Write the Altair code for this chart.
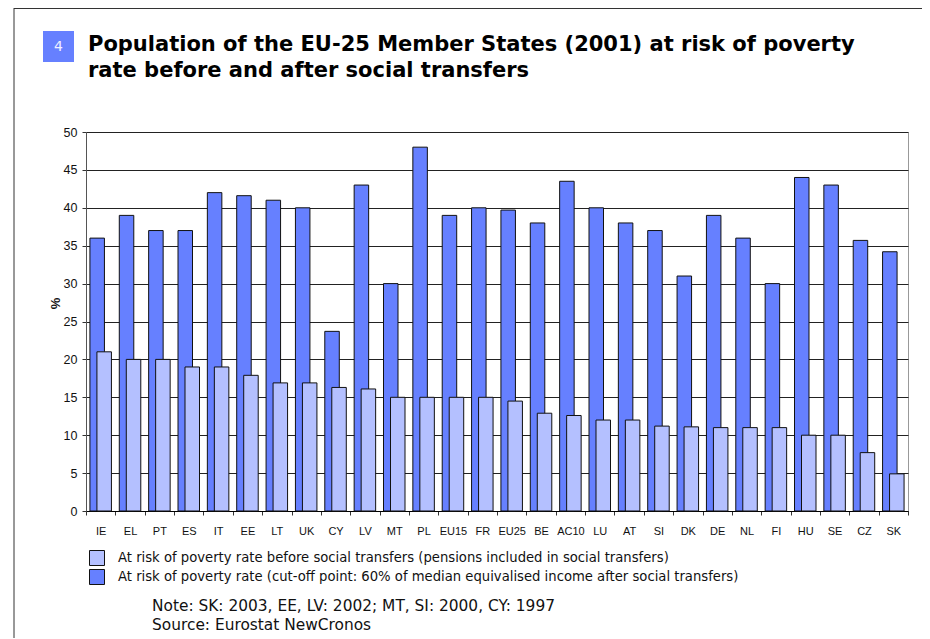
import altair as alt
import pandas as pd

countries = ["IE", "EL", "PT", "ES", "IT", "EE", "LT", "UK", "CY", "LV", "MT", "PL", "EU15", "FR",
             "EU25", "BE", "AC10", "LU", "AT", "SI", "DK", "DE", "NL", "FI", "HU", "SE", "CZ", "SK"]
after_values = [36, 39, 37, 37, 42, 41.6, 41, 40, 23.7, 43, 30, 48, 39, 40,
                39.7, 38, 43.5, 40, 38, 37, 31, 39, 36, 30, 44, 43, 35.7, 34.2]
before_values = [21, 20, 20, 19, 19, 17.9, 16.9, 16.9, 16.3, 16.1, 15, 15, 15, 15,
                 14.5, 12.9, 12.6, 12, 12, 11.2, 11.1, 11, 11, 11, 10, 10, 7.7, 4.9]
label_before = "At risk of poverty rate before social transfers (pensions included in social transfers)"
label_after = "At risk of poverty rate (cut-off point: 60% of median equivalised income after social transfers)"
y_ticks = [0, 5, 10, 15, 20, 25, 30, 35, 40, 45, 50]
title_lines = ["Population of the EU-25 Member States (2001) at risk of poverty",
               "rate before and after social transfers"]
note_lines = ["Note: SK: 2003, EE, LV: 2002; MT, SI: 2000, CY: 1997",
              "Source: Eurostat NewCronos"]
badge = "4"

DARK = "#6680FF"
LIGHT = "#B4C0FF"
VERDANA = "DejaVu Sans"
NARROW = "Liberation Sans Narrow, Liberation Sans, Arial, sans-serif"

rows = []
for c, a, b in zip(countries, after_values, before_values):
    rows.append({"country": c, "series": label_after, "value": a})
    rows.append({"country": c, "series": label_before, "value": b})
df = pd.DataFrame(rows)

x_enc = alt.X(
    "country:N", sort=countries,
    scale=alt.Scale(paddingInner=0, paddingOuter=0),
    axis=alt.Axis(title=None, labelAngle=0, tickBand="extent", tickSize=4, tickColor="#333",
                  domainColor="#000", labelFont=NARROW, labelFontSize=11, labelPadding=10,
                  labelColor="#111", grid=False),
)
y_enc = alt.Y(
    "value:Q",
    scale=alt.Scale(domain=[0, 50], nice=False),
    axis=alt.Axis(values=y_ticks, title="%", titleX=-31, titleY=171, titleAlign="center",
                  titleBaseline="middle", titleFont="Liberation Sans", titleFontSize=13,
                  titleFontWeight="bold", titleColor="#111",
                  grid=True, gridColor="#222", gridWidth=1, tickSize=4, tickColor="#333",
                  domainColor="#555", labelFont="Liberation Sans", labelFontSize=12.5,
                  labelPadding=5, labelColor="#111"),
)
color_enc = alt.Color(
    "series:N",
    scale=alt.Scale(domain=[label_before, label_after], range=[LIGHT, DARK]),
    legend=alt.Legend(title=None, orient="none", legendX=3, legendY=418, symbolType="square",
                      symbolSize=225, symbolStrokeColor="#111", symbolStrokeWidth=1,
                      symbolOpacity=1, labelFont=VERDANA, labelFontSize=13.2, labelColor="#111",
                      labelOffset=13, rowPadding=-1, labelLimit=900, padding=0),
)

base = alt.Chart(df)
dark_bars = base.transform_filter(alt.datum.series == label_after).mark_bar(
    width=14.5, xOffset=-3.5, stroke="#111", strokeWidth=1
).encode(x=x_enc, y=y_enc, color=color_enc)
light_bars = base.transform_filter(alt.datum.series == label_before).mark_bar(
    width=14.5, xOffset=3.5, stroke="#111", strokeWidth=1
).encode(x=x_enc, y=y_enc, color=color_enc)

one = alt.Data(values=[{}])

frame_left = alt.Chart(one).mark_rule(color="#333", strokeWidth=1).encode(
    x=alt.value(-72), y=alt.value(-124), y2=alt.value(510))
frame_top = alt.Chart(one).mark_rule(color="#333", strokeWidth=1).encode(
    x=alt.value(-72), x2=alt.value(836), y=alt.value(-123.5))
badge_box = alt.Chart(one).mark_rect(color=DARK).encode(
    x=alt.value(-43), x2=alt.value(-12), y=alt.value(-101), y2=alt.value(-70))
badge_text = alt.Chart(one).mark_text(font=VERDANA, fontSize=14, color="#F0F0FF",
                                      align="center", baseline="middle").encode(
    x=alt.value(-27.5), y=alt.value(-85.5), text=alt.value(badge))
title1 = alt.Chart(one).mark_text(font=VERDANA, fontSize=21, fontWeight="bold", color="#000",
                                  align="left", baseline="alphabetic").encode(
    x=alt.value(2), y=alt.value(-81), text=alt.value(title_lines[0]))
title2 = alt.Chart(one).mark_text(font=VERDANA, fontSize=21, fontWeight="bold", color="#000",
                                  align="left", baseline="alphabetic").encode(
    x=alt.value(2), y=alt.value(-55), text=alt.value(title_lines[1]))
note1 = alt.Chart(one).mark_text(font=VERDANA, fontSize=15.4, color="#111",
                                 align="left", baseline="alphabetic").encode(
    x=alt.value(66), y=alt.value(479), text=alt.value(note_lines[0]))
note2 = alt.Chart(one).mark_text(font=VERDANA, fontSize=15.4, color="#111",
                                 align="left", baseline="alphabetic").encode(
    x=alt.value(66), y=alt.value(497.5), text=alt.value(note_lines[1]))

chart = alt.layer(
    dark_bars, light_bars, frame_left, frame_top, badge_box, badge_text, title1, title2, note1, note2
).properties(
    width=822, height=379,
    autosize=alt.AutoSizeParams(type="none"),
    padding={"left": 78, "top": 124, "right": 14, "bottom": 127},
).configure_view(stroke="#999", strokeWidth=1)

chart.save("out.html", embed_options={"renderer": "svg", "actions": False})
